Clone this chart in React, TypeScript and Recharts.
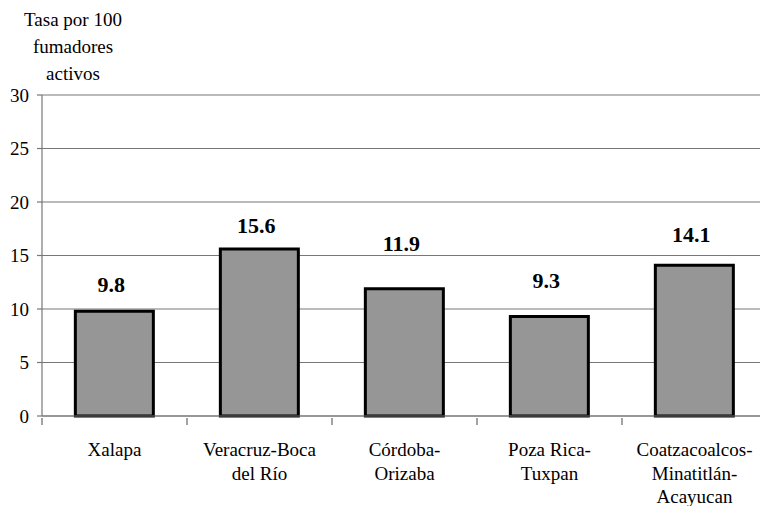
import { BarChart, Bar, XAxis, YAxis, CartesianGrid, LabelList } from 'recharts'

const regions = ['Xalapa', 'Veracruz-Boca del Río', 'Córdoba-Orizaba', 'Poza Rica-Tuxpan', 'Coatzacoalcos-Minatitlán-Acayucan']
const tickLines = [
  ['Xalapa'],
  ['Veracruz-Boca', 'del Río'],
  ['Córdoba-', 'Orizaba'],
  ['Poza Rica-', 'Tuxpan'],
  ['Coatzacoalcos-', 'Minatitlán-', 'Acayucan'],
]
const rates = [9.8, 15.6, 11.9, 9.3, 14.1]
const yTicks = [0, 5, 10, 15, 20, 25, 30]

// gap (px) between bar top and label baseline, as placed in the original
const labelGap = [19, 16, 38, 28, 23]

const data = regions.map((name, i) => ({ name, rate: rates[i] }))

const FONT = 'Liberation Serif, DejaVu Serif, Times New Roman, serif'

function CategoryTick(props: any) {
  const { x, y, index, payload } = props
  const lines = tickLines[index] ?? []
  const half = payload?.offset ?? 0
  return (
    <g transform={`translate(${x},${y})`}>
      <line x1={-half} x2={-half} y1={-8} y2={-1} stroke="#666" strokeWidth={1.2} />
      {index === tickLines.length - 1 && (
        <line x1={half} x2={half} y1={-8} y2={-1} stroke="#666" strokeWidth={1.2} />
      )}
      <text textAnchor="middle" fontFamily={FONT} fontSize={19} fill="#000">
        {lines.map((l, i) => (
          <tspan key={i} x={0} y={30 + i * 23.5}>
            {l}
          </tspan>
        ))}
      </text>
    </g>
  )
}

function ValueLabel(props: any) {
  const { x, y, width, index, value } = props
  return (
    <text
      x={Number(x) + Number(width) / 2 - 3}
      y={Number(y) - (labelGap[index] ?? 16)}
      textAnchor="middle"
      fontFamily={FONT}
      fontSize={22}
      fontWeight="bold"
      fill="#000"
    >
      {Number(value).toFixed(1)}
    </text>
  )
}

export default function App() {
  return (
    <div style={{ position: 'absolute', left: 0, top: 0, width: 760, height: 506, overflow: 'hidden', background: '#fff' }}>
      <div
        style={{
          position: 'absolute',
          left: 8,
          top: 6,
          width: 130,
          textAlign: 'center',
          fontFamily: FONT,
          fontSize: 19,
          lineHeight: '27px',
          color: '#000',
        }}
      >
        Tasa por 100
        <br />
        fumadores
        <br />
        activos
      </div>
      <BarChart
        width={767}
        height={506}
        data={data}
        margin={{ top: 95, right: 0, bottom: 0, left: 0 }}
        barCategoryGap="23%"
      >
        <CartesianGrid vertical={false} stroke="#777" strokeWidth={1.2} />
        <XAxis
          dataKey="name"
          tick={<CategoryTick />}
          interval={0}
          axisLine={{ stroke: '#777', strokeWidth: 1.2 }}
          tickLine={false}
          tickSize={8}
          height={90}
        />
        <YAxis
          domain={[0, 30]}
          ticks={yTicks}
          width={42}
          axisLine={{ stroke: '#777', strokeWidth: 1.2 }}
          tickLine={{ stroke: '#777', strokeWidth: 1.2 }}
          tickSize={5}
          tickMargin={8}
          tick={{ fontFamily: FONT, fontSize: 19, fill: '#000' }}
        />
        <Bar dataKey="rate" fill="#969696" stroke="#000" strokeWidth={3} isAnimationActive={false}>
          <LabelList dataKey="rate" content={<ValueLabel />} />
        </Bar>
      </BarChart>
    </div>
  )
}
